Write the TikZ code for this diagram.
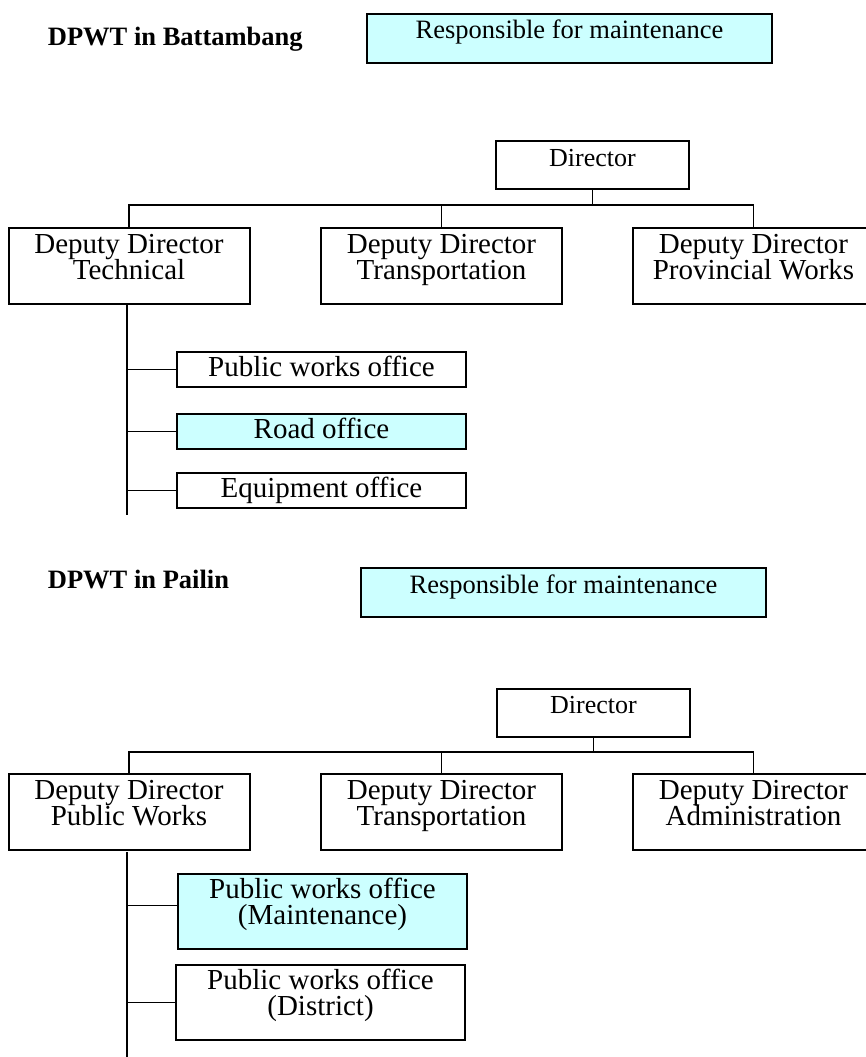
\documentclass[tikz,border=0pt]{standalone}
\usepackage{fontspec}
\setmainfont{Liberation Serif}
\definecolor{dutycyan}{RGB}{204,255,255}
\tikzstyle{unit} = [rectangle,
                    draw=black,
                    line width=1pt,
                    inner sep=0pt,
                    align=center,
                    execute at begin node={\lineskiplimit=-100pt\relax}]
\tikzstyle{heading} = [anchor=base west,
                      inner sep=0pt,
                      font=\fontsize{13.25}{15}\selectfont\bfseries]
\tikzstyle{resp} = [unit,
                   anchor=north west,
                   fill=dutycyan,
                   minimum width=202.5pt,
                   text height=12pt,
                   text depth=12.5pt,
                   font=\fontsize{13.25}{15}\selectfont]
\tikzstyle{director} = [unit,
                       anchor=north west,
                       minimum width=96.5pt,
                       text height=12.5pt,
                       text depth=11.5pt,
                       font=\fontsize{13}{15}\selectfont]
\tikzstyle{deputy} = [unit,
                     anchor=north,
                     minimum width=120.5pt,
                     text height=25.5pt,
                     text depth=12.5pt,
                     font=\fontsize{14.5}{13}\selectfont]
\tikzstyle{office} = [unit,
                     anchor=north west,
                     minimum width=144.5pt,
                     text height=12pt,
                     text depth=5.5pt,
                     font=\fontsize{14.5}{13}\selectfont]
\tikzstyle{office2} = [office,
                      text height=25pt,
                      text depth=12.5pt]
\tikzstyle{chart} = [x=0.5pt,
                    y=-0.5pt,
                    line width=0.9pt]

\begin{document}
\begin{tikzpicture}[chart]
    \useasboundingbox (0,0) rectangle (866,1057);
    % Battambang
    \node (bt) [heading] at (47,45) {DPWT in Battambang};
    \node (br) [resp] at (366,13) {Responsible for maintenance};
    \node (bd) [director] at (495,140) {Director};
    \node (bdt) [deputy] at (129,227) {Deputy Director\\Technical};
    \node (bdr) [deputy] at (441.5,227) {Deputy Director\\Transportation};
    \node (bdp) [deputy] at (753.5,227) {Deputy Director\\Provincial Works};
    \node (bpw) [office] at (176,351) {Public works office};
    \node (bro) [office, fill=dutycyan] at (176,413) {Road office};
    \node (beq) [office] at (176,472) {Equipment office};
    \coordinate (bbus) at (0,205);
    \coordinate (btop) at (127,305);
    \coordinate (bend) at (127,515);
    \draw (bd.south) -- (bd.south |- bbus);
    \draw (bdt.north) -- (bdt.north |- bbus) -- (bdp.north |- bbus) -- (bdp.north);
    \draw (bdr.north) -- (bdr.north |- bbus);
    \draw (btop) -- (bend);
    \foreach \n in {bpw,bro,beq}
      \draw (\n.west) -- (\n.west -| btop);

    % Pailin
    \node (pt) [heading] at (47,588) {DPWT in Pailin};
    \node (pr) [resp, text height=12.5pt, text depth=12pt] at (360,567) {Responsible for maintenance};
    \node (pd) [director, text height=12pt, text depth=12pt] at (496,688) {Director};
    \node (pdw) [deputy] at (129,773) {Deputy Director\\Public Works};
    \node (pdr) [deputy] at (441.5,773) {Deputy Director\\Transportation};
    \node (pda) [deputy] at (753.5,773) {Deputy Director\\Administration};
    \node (ppm) [office2, fill=dutycyan] at (177,873) {Public works office\\(Maintenance)};
    \node (ppd) [office2] at (175,964) {Public works office\\(District)};
    \coordinate (pbus) at (0,752);
    \coordinate (ptop) at (127,852);
    \coordinate (pend) at (127,1057);
    \draw (pd.south) -- (pd.south |- pbus);
    \draw (pdw.north) -- (pdw.north |- pbus) -- (pda.north |- pbus) -- (pda.north);
    \draw (pdr.north) -- (pdr.north |- pbus);
    \draw (ptop) -- (pend);
    \draw ([yshift=3pt]ppm.west) -- ([yshift=3pt]ppm.west -| ptop);
    \draw (ppd.west) -- (ppd.west -| ptop);
\end{tikzpicture}
\end{document}
